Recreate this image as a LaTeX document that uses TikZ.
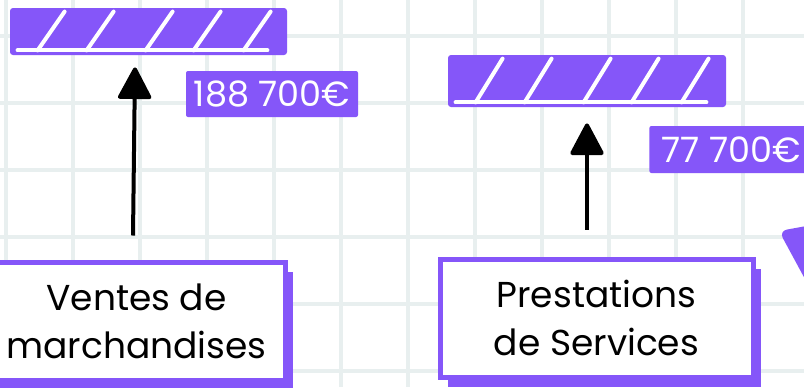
\documentclass[tikz,border=0pt]{standalone}
\usepackage{fontspec}
\setmainfont{Poppins}
\usetikzlibrary{arrows.meta,calc,shadows}

\definecolor{mauve}{RGB}{133,86,249}
\definecolor{quadrillage}{RGB}{232,239,239}

% hachures blanches dans une barre
\newcommand{\hachures}[1]{%
  \draw[trait] ($(#1.south west)+(8,-5)$) -- ($(#1.south east)+(-20,-5)$);
  \foreach \d in {28,77,136,184,234}
    \draw[trait] ($(#1.south west)+(\d,-5)$) -- ($(#1.north west)+(\d+27,4)$);
}

\begin{document}
\begin{tikzpicture}[x=0.5pt,y=-0.5pt,
    grille/.style={quadrillage,line width=1.6pt},
    barre/.style={fill=mauve,rounded corners=1.5pt,inner sep=0pt},
    trait/.style={white,line width=2pt,line cap=round},
    montant/.style={fill=mauve,text=white,rounded corners=1pt,inner sep=0pt,
      font=\fontsize{17.5}{17.5}\selectfont},
    poste/.style={draw=mauve,line width=2.5pt,fill=white,align=center,
      inner sep=0pt,font=\fontsize{18}{24}\selectfont,
      general shadow={fill=mauve,shadow xshift=4pt,shadow yshift=-5pt}},
    fleche/.style={line width=2pt,-{Triangle[round,width=17.5pt,length=17pt]}}]
  \useasboundingbox (0,0) rectangle (804,387);
  \fill[white] (0,0) rectangle (804,387);

  % quadrillage
  \foreach \x in {6,73,...,743}
    \draw[grille] (\x,0) -- (\x,387);
  \foreach \y in {36,103,...,371}
    \draw[grille] (0,\y) -- (804,\y);

  % barres
  \node[barre,minimum width=138.5pt,minimum height=23.5pt] (barreA) at (148.5,31.5) {};
  \node[barre,minimum width=139pt,minimum height=26pt] (barreB) at (587,81) {};
  \hachures{barreA}
  \hachures{barreB}

  % montants
  \node[montant,minimum width=86pt,minimum height=23pt] (montantA) at (272,94) {188 700€};
  \node[montant,minimum width=79pt,minimum height=23.5pt,anchor=west] (montantB) at (649,149.5) {\,77 700€};

  % postes
  \node[poste,minimum width=148.5pt,minimum height=59pt] (ventes) at (136.5,321)
    {Ventes de\\marchandises};
  \node[poste,minimum width=156.5pt,minimum height=59pt] (prestations) at (596.5,318)
    {Prestations\\de Services};

  % fleches
  \draw[fleche] ([xshift=-1.75pt,yshift=12pt]ventes.north) -- ([xshift=-6.75pt,yshift=-6pt]barreA.south);
  \draw[fleche] ([xshift=-4.75pt,yshift=13.5pt]prestations.north) -- ([yshift=-8pt]barreB.south);

  % forme coupee a droite
  \fill[mauve,rounded corners=4pt] (779,231) -- (812,225) -- (812,292) -- cycle;
\end{tikzpicture}
\end{document}
